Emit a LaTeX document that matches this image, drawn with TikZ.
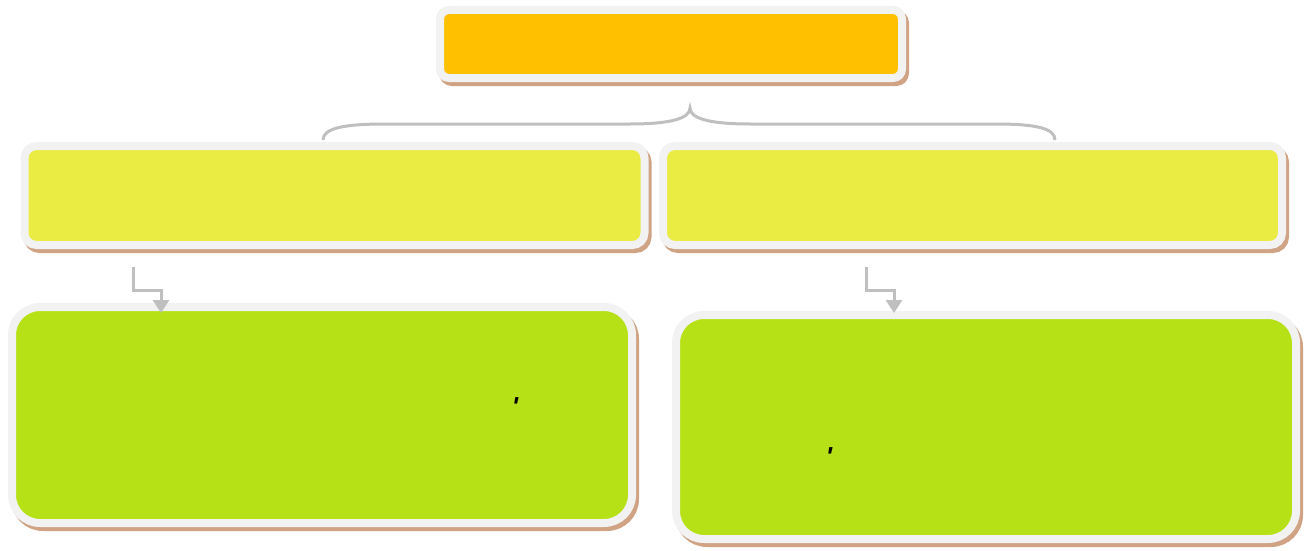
\documentclass[tikz,border=0pt]{standalone}
\usepackage{fontspec}
\setsansfont{Liberation Sans}
\usetikzlibrary{arrows.meta}
\definecolor{Rim}{HTML}{F2F2F2}
\definecolor{Shade}{HTML}{CFA384}
\definecolor{Orange}{HTML}{FFC000}
\definecolor{Lemon}{HTML}{EAEB43}
\definecolor{Lime}{HTML}{B6E117}
\definecolor{Line}{HTML}{BFBFBF}

\begin{document}
\begin{tikzpicture}[x=1pt, y=-1pt,
    box/.style={draw=Rim, line width=8pt, rounded corners=#1, inner sep=0pt,
      preaction={draw=Shade, fill=Shade, line width=8pt, transform canvas={shift={(3pt,-4pt)}}}},
    box/.default=12pt,
    brace/.style={draw=Line, line width=3pt},
    elbow/.style={-{Triangle[length=13pt, width=16pt]}, draw=Line, line width=3pt},
    glyph/.style={inner sep=0pt, font=\sffamily\bfseries\itshape\fontsize{26}{26}\selectfont}
  ]
    \useasboundingbox (0,0) rectangle (1314,551);

    \node[box=9pt, fill=Orange, minimum width=462, minimum height=68] (top) at (671,44) {};
    \node[box, fill=Lemon, minimum width=620, minimum height=99] (left) at (334.5,195.5) {};
    \node[box, fill=Lemon, minimum width=619, minimum height=99] (right) at (972.5,195.5) {};
    \node[box=28pt, fill=Lime, minimum width=620, minimum height=216] (lowleft) at (322,415) {};
    \node[box=28pt, fill=Lime, minimum width=620, minimum height=224] (lowright) at (986,427) {};

    \node[glyph] (q1) at (515,407) {\textquotesingle};
    \node[glyph] (q2) at (829,457) {\textquotesingle};

    % brace under the top box
    \coordinate (bs) at (323,140);
    \coordinate (bt) at (690,108);
    \coordinate (be) at (1055,140);
    \draw[brace] (bs) .. controls (323,128) and (345,124) .. (385,124) -- (630,124)
      .. controls (672,124) and (690,118) .. (bt)
      .. controls (690,118) and (708,124) .. (750,124) -- (995,124)
      .. controls (1035,124) and (1055,128) .. (be);

    % elbow arrows
    \coordinate (p1) at (133,267);
    \coordinate (t1) at (161,313);
    \coordinate (p2) at (866,267);
    \coordinate (t2) at (894,313);
    \draw[elbow] (p1) -- ++(0,23) -| (t1);
    \draw[elbow] (p2) -- ++(0,23) -| (t2);
  \end{tikzpicture}
\end{document}
